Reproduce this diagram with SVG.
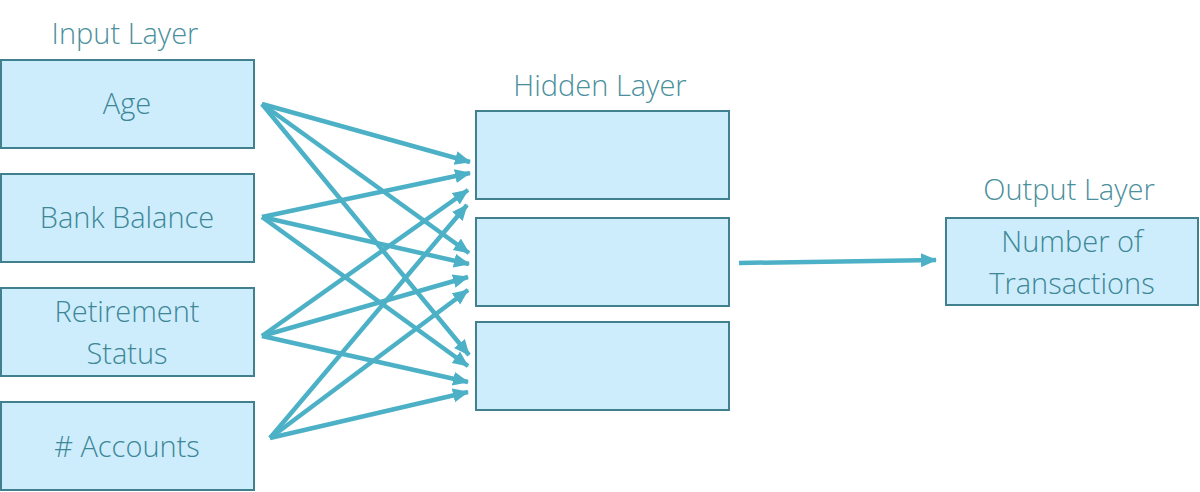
<svg xmlns="http://www.w3.org/2000/svg" width="1200" height="492" viewBox="0 0 1200 492">
<defs>
<style>
.box{fill:#cdedfd;stroke:#41818f;stroke-width:2}
.t{font-family:"Open Sans","Noto Sans",sans-serif;font-size:29px;font-weight:350;fill:#3d8796;text-anchor:middle}
.h{font-family:"Open Sans","Noto Sans",sans-serif;font-size:29px;font-weight:350;fill:#4a8f9c;text-anchor:middle}
.c{stroke:#4cb1c6;stroke-width:4.5;fill:none;marker-end:url(#ah)}
</style>
<marker id="ah" markerUnits="userSpaceOnUse" markerWidth="18" markerHeight="16" refX="15" refY="7" orient="auto">
<path d="M0,0 L16,7 L0,14 Z" fill="#4cb1c6"/>
</marker>
</defs>
<rect width="1200" height="492" fill="#fff"/>
<text class="h" x="125" y="44">Input Layer</text>
<text class="h" x="600" y="96">Hidden Layer</text>
<text class="h" x="1069" y="200">Output Layer</text>
<g id="in-age"><rect class="box" x="1" y="60" width="253" height="88"/><text class="t" x="127" y="114">Age</text></g>
<g id="in-bank"><rect class="box" x="1" y="174" width="253" height="88"/><text class="t" x="127" y="228">Bank Balance</text></g>
<g id="in-ret"><rect class="box" x="1" y="288" width="253" height="88"/><text class="t" x="127" y="322">Retirement</text><text class="t" x="127" y="364">Status</text></g>
<g id="in-acc"><rect class="box" x="1" y="402" width="253" height="88"/><text class="t" x="127" y="457">#&#160;Accounts</text></g>
<g id="hid-1"><rect class="box" x="476" y="111" width="253" height="88"/></g>
<g id="hid-2"><rect class="box" x="476" y="218" width="253" height="88"/></g>
<g id="hid-3"><rect class="box" x="476" y="322" width="253" height="88"/></g>
<g id="out"><rect class="box" x="946" y="218" width="252" height="87"/><text class="t" x="1072" y="252">Number of</text><text class="t" x="1072" y="294">Transactions</text></g>
<g id="connectors">
<line class="c" x1="262" y1="104" x2="470" y2="162"/>
<line class="c" x1="262" y1="104" x2="469" y2="253"/>
<line class="c" x1="262" y1="104" x2="469" y2="355"/>
<line class="c" x1="262" y1="217" x2="470" y2="173"/>
<line class="c" x1="262" y1="217" x2="469" y2="264"/>
<line class="c" x1="262" y1="217" x2="468" y2="366"/>
<line class="c" x1="262" y1="336" x2="468" y2="190"/>
<line class="c" x1="262" y1="336" x2="468" y2="277"/>
<line class="c" x1="262" y1="336" x2="468" y2="382"/>
<line class="c" x1="270" y1="438" x2="467" y2="205"/>
<line class="c" x1="270" y1="438" x2="468" y2="290"/>
<line class="c" x1="270" y1="438" x2="468" y2="392"/>
<line class="c" x1="739" y1="263" x2="936" y2="260"/>
</g>
</svg>
